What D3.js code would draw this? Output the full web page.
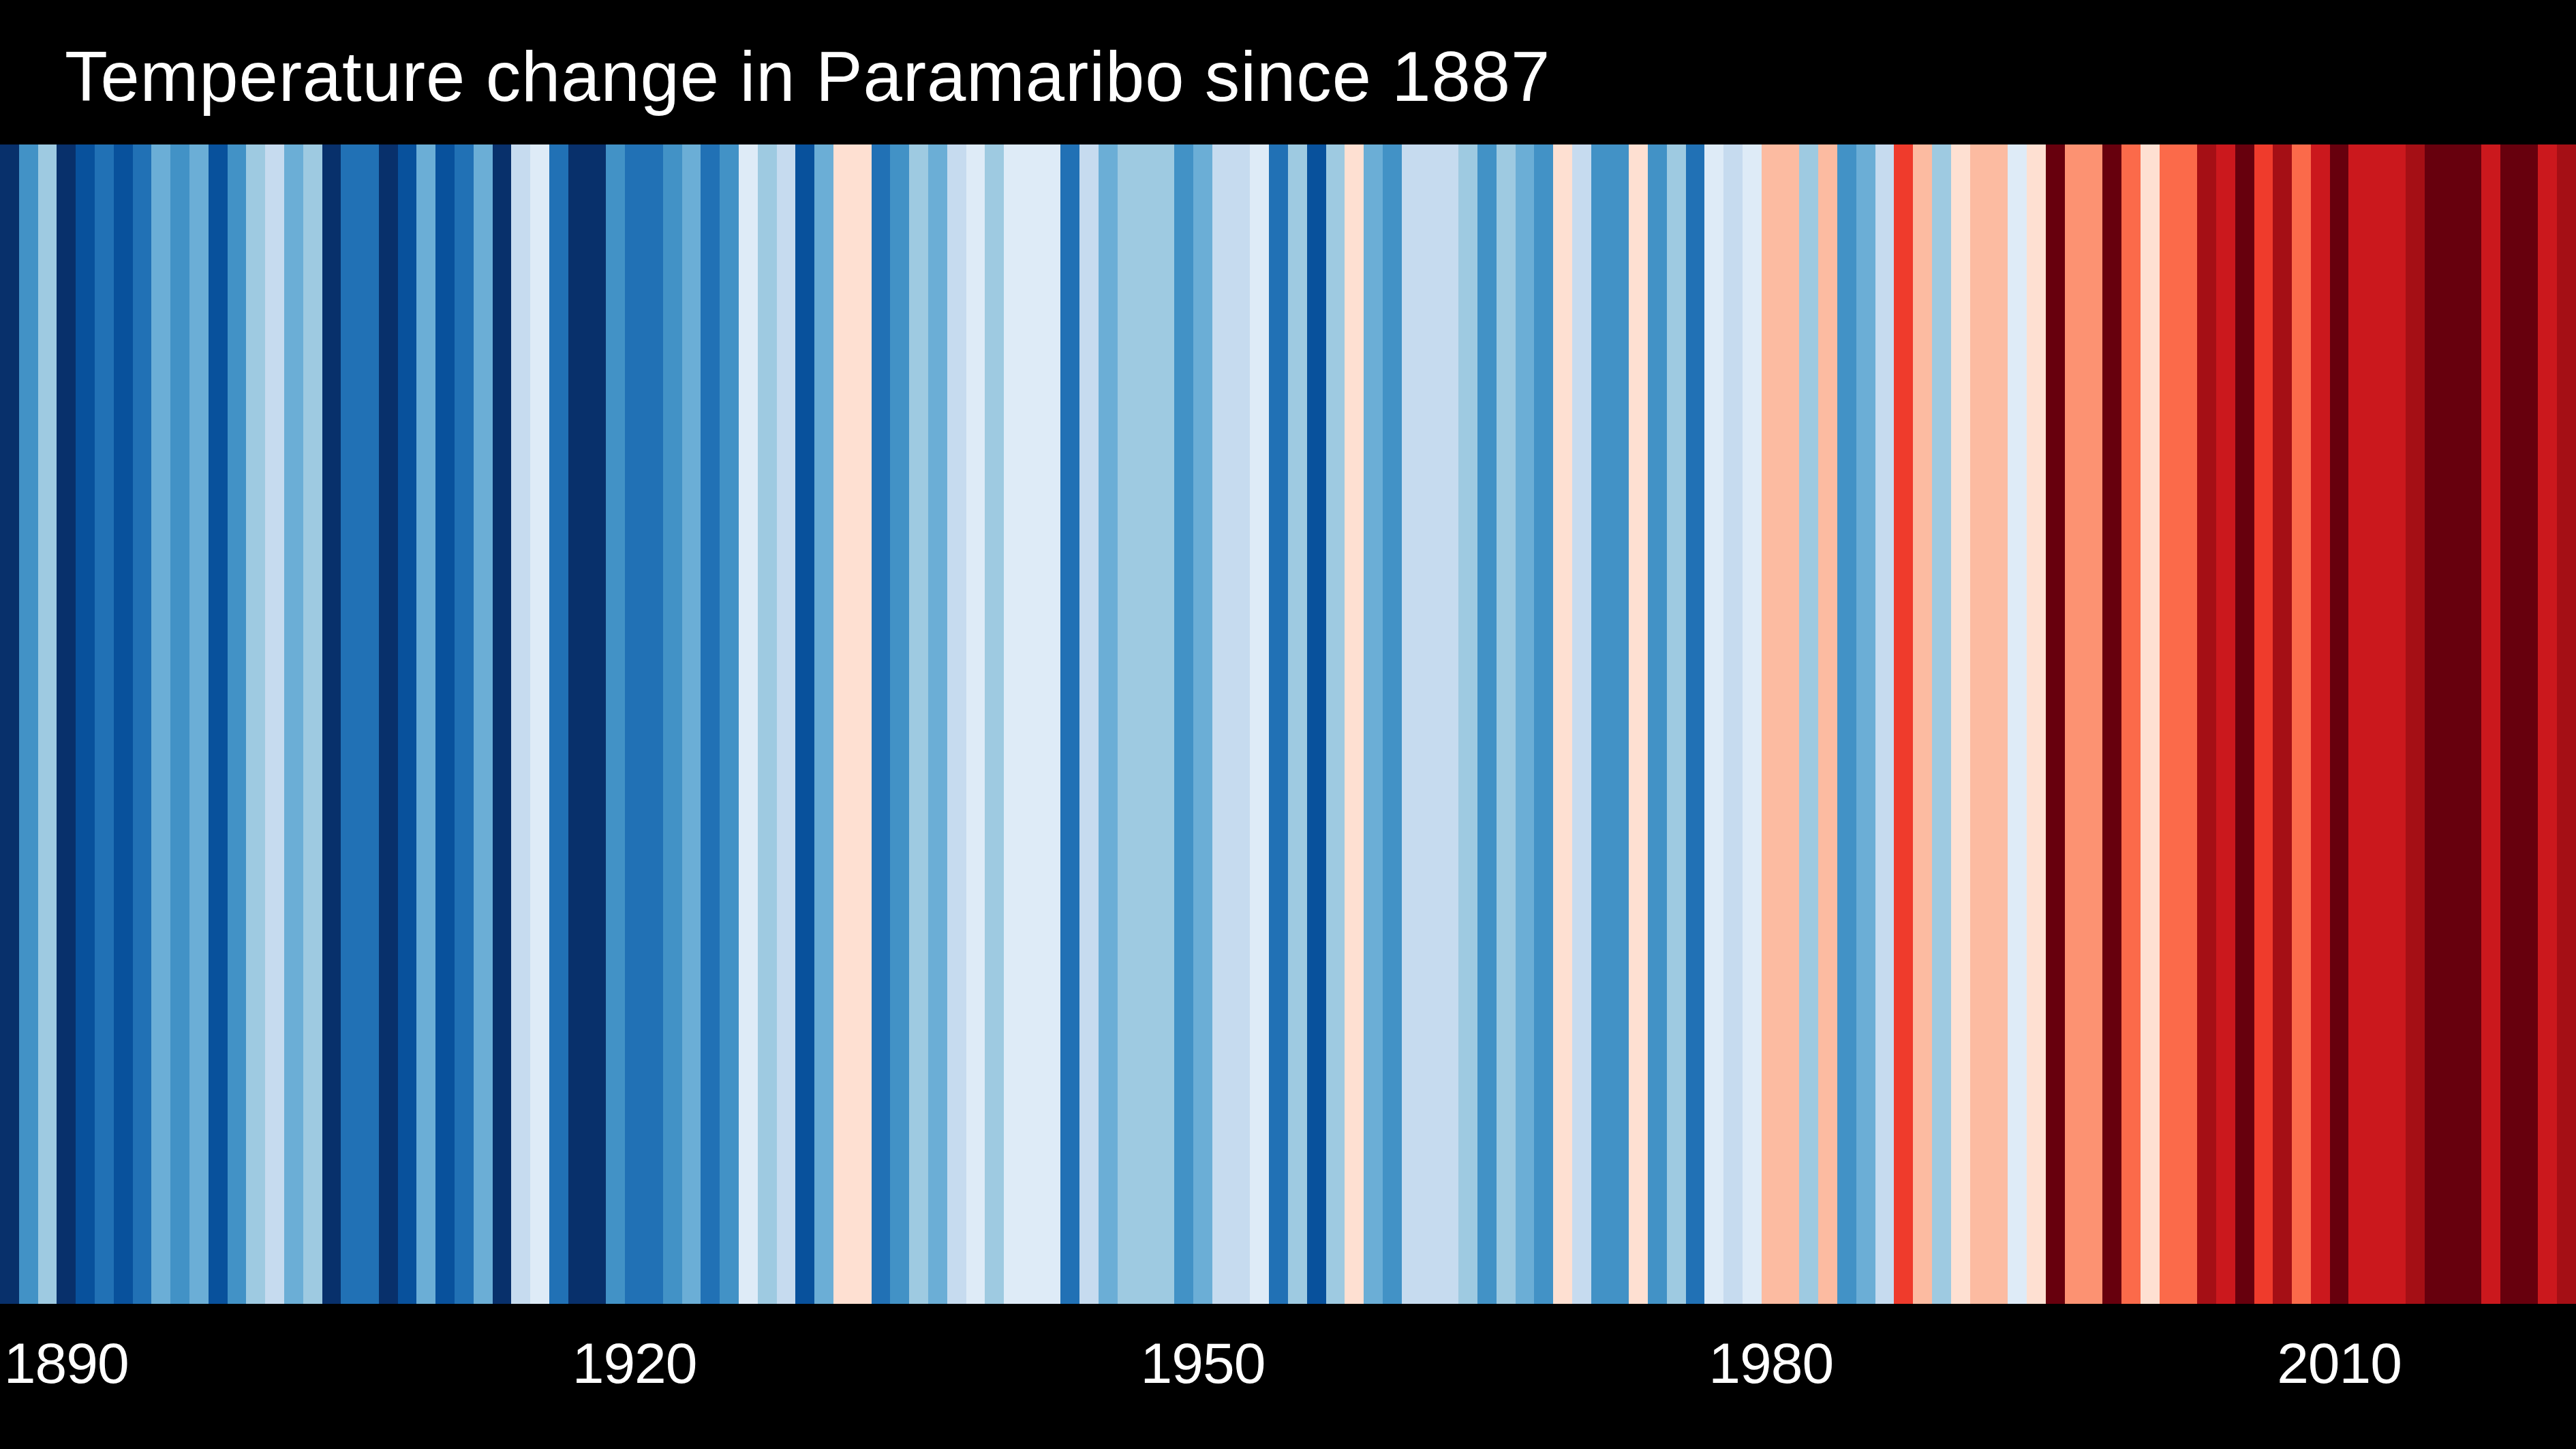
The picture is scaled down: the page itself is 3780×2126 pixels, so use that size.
<!DOCTYPE html>
<html>
<head>
<meta charset="utf-8">
<title>Temperature change in Paramaribo since 1887</title>
<script src="https://cdn.jsdelivr.net/npm/d3@7"></script>
<style>
  html, body { margin: 0; padding: 0; background: #000; overflow: hidden; }
  svg { display: block; }
  text { font-family: "Liberation Sans", Arial, sans-serif; fill: #fff; }
</style>
</head>
<body>
<script>
const titleText = "Temperature change in Paramaribo since 1887";
const firstYear = 1887;
const tickYears = [1890, 1920, 1950, 1980, 2010];

// colour class of each year, 0 (coldest) to 15 (warmest)
const levels1887 = [0, 3, 5, 0, 1, 2, 1, 2, 4, 3, 4, 1, 3, 5, 6, 4, 5, 0, 2, 2, 0, 1, 4, 1, 2, 4, 0, 6, 7, 2, 0, 0, 3, 2];
const levels1921 = [2, 3, 4, 2, 3, 7, 5, 6, 1, 4, 8, 8, 2, 3, 5, 4, 6, 7, 5, 7, 7, 7, 2, 6, 4, 5, 5, 5, 3, 4, 6, 6, 7, 2];
const levels1955 = [5, 1, 5, 8, 4, 3, 6, 6, 6, 5, 3, 5, 4, 3, 8, 6, 3, 3, 8, 3, 5, 2, 7, 6, 7, 9, 9, 5, 9, 3, 4, 6, 12, 9];
const levels1989 = [5, 8, 9, 9, 7, 8, 15, 10, 10, 15, 11, 8, 11, 11, 14, 13, 15, 12, 14, 11, 13, 15, 13, 13, 13, 14, 15, 15, 15, 13, 15, 15, 13, 14];

const levels = [...levels1887, ...levels1921, ...levels1955, ...levels1989];
const years = levels.map((d, i) => firstYear + i);

const stripeColors = [
  "#08306b", "#08519c", "#2171b5", "#4292c6", "#6baed6", "#9ecae1", "#c6dbef", "#deebf7",
  "#fee0d2", "#fcbba1", "#fc9272", "#fb6a4a", "#ef3b2c", "#cb181d", "#a50f15", "#67000d"
];

const width = 3780;
const height = 2126;
const stripeTop = 212;
const stripeBottom = 1913;

const x = d3.scaleBand().domain(years).range([0, width]).padding(0);
const color = d3.scaleQuantize().domain([0, stripeColors.length]).range(stripeColors);

const svg = d3.select("body").append("svg")
    .attr("width", width)
    .attr("height", height);

svg.append("rect")
    .attr("width", width)
    .attr("height", height)
    .attr("fill", "#000");

// stripes
svg.append("g").selectAll("rect")
    .data(levels)
    .enter()
    .append("rect")
    .attr("x", (d, i) => x(years[i]))
    .attr("y", stripeTop)
    .attr("width", x.bandwidth())
    .attr("height", stripeBottom - stripeTop)
    .attr("fill", d => color(d))
    .attr("shape-rendering", "crispEdges");

// title
svg.append("text")
    .attr("x", 95)
    .attr("y", 148)
    .attr("font-size", 103)
    .attr("letter-spacing", 0.9)
    .text(titleText);

// year labels
const axis = d3.axisBottom(x)
    .tickValues(tickYears)
    .tickSize(0)
    .tickPadding(56);

const axisG = svg.append("g")
    .attr("transform", `translate(0,${stripeBottom})`)
    .call(axis);

axisG.select(".domain").remove();
axisG.selectAll("text")
    .attr("font-size", 84)
    .attr("letter-spacing", -1)
    .attr("font-family", "Liberation Sans")
    .attr("fill", "#fff");
</script>
</body>
</html>
